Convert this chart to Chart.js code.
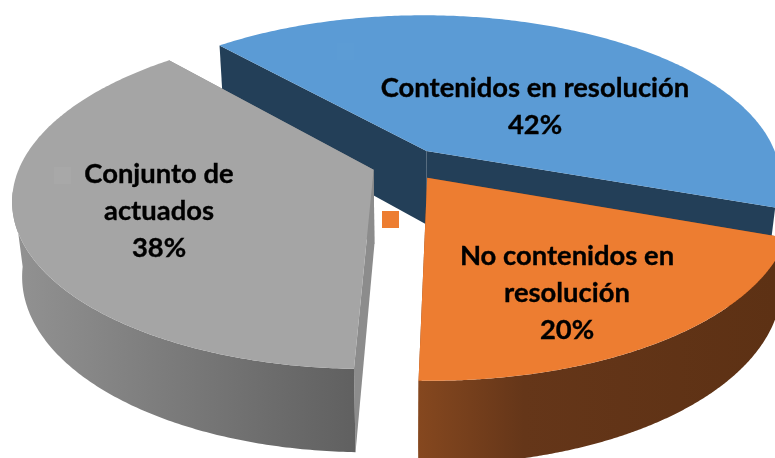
<!DOCTYPE html>
<html><head><meta charset="utf-8">
<style>html,body{margin:0;padding:0;background:#fff;overflow:hidden}canvas{display:block}</style>
<script src="https://cdn.jsdelivr.net/npm/chart.js@4"></script>
</head><body>
<canvas id="c" width="775" height="458"></canvas>
<script>
const categories = ['Contenidos en resolución', 'No contenidos en resolución', 'Conjunto de actuados'];
const values = [42, 20, 38];
const labelLines = [['Contenidos en resolución'], ['No contenidos en', 'resolución'], ['Conjunto de', 'actuados']];
const topColors = ['#5B9BD5', '#ED7D31', '#A5A5A5'];
const keyColors = ['#5C9CD5', '#ED7D31', '#A8A8A8'];
const wallStops = [
  [[0, '#233F58'], [1, '#233F58']],
  [[0, '#86481F'], [0.3, '#653619'], [1, '#5D3114']],
  [[0, '#929292'], [1, '#606060']]
];
const wallRanges = [[200, 775], [416, 775], [14, 356]];
const cutWallColors = ['#233F58', '#84461F', '#8C8C8C'];
const labelCentres = [[535, 88.5], [567, 256.5], [159, 174.5]];
const keyBoxes = [[337, 43, 17], [382, 211, 17], [54, 167, 17]];
const labelFont = 'bold 27.4px Lato';
const lineGap = 36.7;

const view = {cx: 407, cy: 164.2, rx: 353, ry: 163, k: 0.171, lift: 75.8, m: 0.025, explode: 0.1, frontSin: 0.12};
function project(X, Y, Z) {
  const w = 1 - view.k * Y + view.m * Z;
  return [view.cx + view.rx * X / w, view.cy + (view.ry * Y + view.lift * Z) / w];
}
const pie3d = {
  id: 'pie3d',
  beforeDatasetsDraw(chart) {
    const ctx = chart.ctx;
    const arcs = chart.getDatasetMeta(0).data;
    const order = [0, 2, 1];
    order.forEach(i => {
      const a = arcs[i];
      const mid = (a.startAngle + a.endAngle) / 2;
      const ox = view.explode * Math.cos(mid), oy = view.explode * Math.sin(mid);
      const rim = (t, z) => project(ox + Math.cos(t), oy + Math.sin(t), z);
      const apex = z => project(ox, oy, z);
      const n = 240, ts = [];
      for (let s = 0; s <= n; s++) ts.push(a.startAngle + (a.endAngle - a.startAngle) * s / n);
      const poly = pts => { ctx.beginPath(); pts.forEach((p, j) => j ? ctx.lineTo(p[0], p[1]) : ctx.moveTo(p[0], p[1])); ctx.closePath(); };
      ctx.fillStyle = cutWallColors[i];
      [a.startAngle, a.endAngle].forEach(t => {
        poly([apex(0), rim(t, 0), rim(t, 1), apex(1)]);
        ctx.fill();
      });
      const g = ctx.createLinearGradient(wallRanges[i][0], 0, wallRanges[i][1], 0);
      wallStops[i].forEach(st => g.addColorStop(st[0], st[1]));
      ctx.fillStyle = g;
      const front = ts.filter(t => Math.sin(t) >= view.frontSin);
      poly(front.map(t => rim(t, 0)).concat(front.slice().reverse().map(t => rim(t, 1))));
      ctx.fill();
      ctx.fillStyle = topColors[i];
      poly([apex(0)].concat(ts.map(t => rim(t, 0))));
      ctx.fill();
    });
    return false;
  },
  afterDraw(chart) {
    const ctx = chart.ctx;
    const total = values.reduce((p, v) => p + v, 0);
    ctx.save();
    ctx.font = labelFont;
    ctx.textAlign = 'center';
    ctx.textBaseline = 'middle';
    ctx.strokeStyle = '#000';
    ctx.lineWidth = 0.35;
    values.forEach((v, i) => {
      const b = keyBoxes[i];
      ctx.fillStyle = keyColors[i];
      ctx.fillRect(b[0], b[1], b[2], b[2]);
      ctx.fillStyle = '#000';
      const lines = labelLines[i].concat([Math.round(v / total * 100) + '%']);
      lines.forEach((t, j) => {
        const y = labelCentres[i][1] + j * lineGap;
        ctx.fillText(t, labelCentres[i][0], y);
        ctx.strokeText(t, labelCentres[i][0], y);
      });
    });
    ctx.restore();
  }
};
new Chart(document.getElementById('c'), {
  type: 'pie',
  data: {labels: categories, datasets: [{data: values, backgroundColor: topColors, borderWidth: 0}]},
  options: {
    responsive: false, animation: false, rotation: 318.5,
    plugins: {legend: {display: false}, tooltip: {enabled: false}}
  },
  plugins: [pie3d]
});
</script>
</body></html>
